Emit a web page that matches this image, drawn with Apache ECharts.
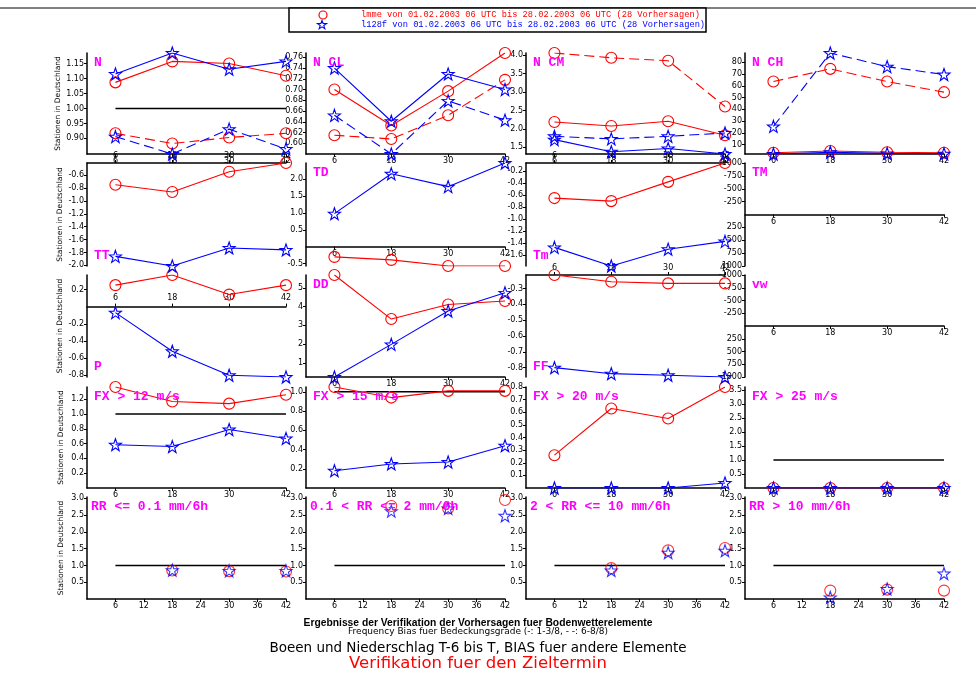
<!DOCTYPE html>
<html><head><meta charset="utf-8">
<script src="https://cdn.jsdelivr.net/npm/echarts@6/dist/echarts.min.js"></script>
<style>html,body{margin:0;padding:0;background:#fff}#c{width:976px;height:682px}</style>
</head><body><div id="c"></div>
<script>
// ---------- data ----------
const hours = [6, 18, 30, 42];
const rrHours = [18, 30, 42];
const xLabelsMain = [6, 18, 30, 42];
const xLabelsRR = [6, 12, 18, 24, 30, 36, 42];
const refValue = 1.0;

// cloud cover: "Low" = 1-3/8 (solid), "High" = 6-8/8 (dashed)
const nLmmeLow = [1.087, 1.157, 1.150, 1.109];
const nL128fLow = [1.115, 1.185, 1.131, 1.157];
const nLmmeHigh = [0.917, 0.883, 0.903, 0.917];
const nL128fHigh = [0.906, 0.848, 0.931, 0.865];

const clLmmeLow = [0.700, 0.633, 0.697, 0.768];
const clL128fLow = [0.740, 0.641, 0.729, 0.700];
const clLmmeHigh = [0.615, 0.608, 0.652, 0.718];
const clL128fHigh = [0.652, 0.580, 0.679, 0.643];

const cmLmmeLow = [2.19, 2.08, 2.21, 1.83];
const cmL128fLow = [1.71, 1.38, 1.47, 1.32];
const cmLmmeHigh = [4.06, 3.93, 3.85, 2.61];
const cmL128fHigh = [1.80, 1.73, 1.80, 1.89];

const chLmmeLow = [3.0, 4.5, 3.5, 3.0];
const chL128fLow = [2.0, 3.5, 2.5, 2.2];
const chLmmeHigh = [63.6, 74.4, 63.6, 54.6];
const chL128fHigh = [25.5, 87.9, 76.3, 69.6];

const ttLmme = [-0.747, -0.86, -0.545, -0.41];
const ttL128f = [-1.86, -2.01, -1.73, -1.76];
const tdLmme = [-0.30, -0.39, -0.57, -0.57];
const tdL128f = [0.98, 2.16, 1.78, 2.48];
const tminLmme = [-0.65, -0.70, -0.38, -0.066];
const tminL128f = [-1.47, -1.78, -1.50, -1.37];

const pLmme = [0.25, 0.368, 0.14, 0.25];
const pL128f = [-0.07, -0.52, -0.80, -0.82];
const ddLmme = [5.68, 3.33, 4.11, 4.29];
const ddL128f = [0.24, 1.98, 3.76, 4.73];
const ffLmme = [-0.215, -0.258, -0.268, -0.268];
const ffL128f = [-0.80, -0.838, -0.848, -0.859];

const fx12Lmme = [1.365, 1.17, 1.14, 1.26];
const fx12L128f = [0.585, 0.56, 0.79, 0.67];
const fx15Lmme = [1.05, 0.94, 1.01, 1.01];
const fx15L128f = [0.18, 0.25, 0.27, 0.44];
const fx20Lmme = [0.26, 0.63, 0.55, 0.80];
const fx20L128f = [0, 0, 0, 0.04];
const fx25Lmme = [0, 0, 0, 0];
const fx25L128f = [0, 0, 0, 0];

const rr01Lmme = [0.85, 0.83, 0.82];
const rr01L128f = [0.86, 0.84, 0.84];
const rr2Lmme = [2.77, 2.70, 2.95];
const rr2L128f = [2.62, 2.70, 2.48];
const rr10Lmme = [0.92, 1.45, 1.52];
const rr10L128f = [0.85, 1.38, 1.44];
const rrGt10Lmme = [0.25, 0.28, 0.25];
const rrGt10L128f = [0.05, 0.30, 0.76];

// y tick labels
const nTicks = [0.90, 0.95, 1.00, 1.05, 1.10, 1.15];
const clTicks = [0.60, 0.62, 0.64, 0.66, 0.68, 0.70, 0.72, 0.74, 0.76];
const cmTicks = [1.5, 2.0, 2.5, 3.0, 3.5, 4.0];
const chTicks = [10, 20, 30, 40, 50, 60, 70, 80];
const ttTicks = [-2.0, -1.8, -1.6, -1.4, -1.2, -1.0, -0.8, -0.6];
const tdTicks = [-0.5, 0.5, 1.0, 1.5, 2.0];
const tminTicks = [-1.6, -1.4, -1.2, -1.0, -0.8, -0.6, -0.4, -0.2];
const emptyTicks = [-1000, -750, -500, -250, 250, 500, 750, 1000];
const pTicks = [-0.8, -0.6, -0.4, -0.2, 0.2];
const ddTicks = [1, 2, 3, 4, 5];
const ffTicks = [-0.8, -0.7, -0.6, -0.5, -0.4, -0.3];
const fx12Ticks = [0.2, 0.4, 0.6, 0.8, 1.0, 1.2];
const fx15Ticks = [0.2, 0.4, 0.6, 0.8, 1.0];
const fx20Ticks = [0.1, 0.2, 0.3, 0.4, 0.5, 0.6, 0.7, 0.8];
const fx25Ticks = [0.5, 1.0, 1.5, 2.0, 2.5, 3.0, 3.5];
const rrTicks = [0.5, 1.0, 1.5, 2.0, 2.5, 3.0];

const legendLmme = 'lmme von 01.02.2003 06 UTC bis 28.02.2003 06 UTC (28 Vorhersagen)';
const legendL128f = 'l128f von 01.02.2003 06 UTC bis 28.02.2003 06 UTC (28 Vorhersagen)';

// ---------- panels ----------
const L = (d, m, dash) => ({ d, m, dash: !!dash });
const panels = [
  { t: 'N', tp: 'top', ticks: nTicks, dec: 2, xp: 'bottom', ref: true,
    lines: [L(nLmmeLow,'lmme'), L(nL128fLow,'l128f'), L(nLmmeHigh,'lmme',1), L(nL128fHigh,'l128f',1)] },
  { t: 'N CL', tp: 'top', ticks: clTicks, dec: 2, xp: 'bottom',
    lines: [L(clLmmeLow,'lmme'), L(clL128fLow,'l128f'), L(clLmmeHigh,'lmme',1), L(clL128fHigh,'l128f',1)] },
  { t: 'N CM', tp: 'top', ticks: cmTicks, dec: 1, xp: 'bottom',
    lines: [L(cmLmmeLow,'lmme'), L(cmL128fLow,'l128f'), L(cmLmmeHigh,'lmme',1), L(cmL128fHigh,'l128f',1)] },
  { t: 'N CH', tp: 'top', ticks: chTicks, dec: 0, xp: 'bottom',
    lines: [L(chLmmeLow,'lmme'), L(chL128fLow,'l128f'), L(chLmmeHigh,'lmme',1), L(chL128fHigh,'l128f',1)] },

  { t: 'TT', tp: 'bottom', ticks: ttTicks, dec: 1, xp: 'top', lines: [L(ttLmme,'lmme'), L(ttL128f,'l128f')] },
  { t: 'TD', tp: 'top', ticks: tdTicks, dec: 1, xp: 'zero', lines: [L(tdLmme,'lmme'), L(tdL128f,'l128f')] },
  { t: 'Tm', tp: 'bottom', ticks: tminTicks, dec: 1, xp: 'top', lines: [L(tminLmme,'lmme'), L(tminL128f,'l128f')] },
  { t: 'TM', tp: 'top', ticks: emptyTicks, dec: 0, xp: 'zero', empty: true, lines: [] },

  { t: 'P', tp: 'bottom', ticks: pTicks, dec: 1, xp: 'zero', inside: true, lines: [L(pLmme,'lmme'), L(pL128f,'l128f')] },
  { t: 'DD', tp: 'top', ticks: ddTicks, dec: 0, xp: 'bottom', lines: [L(ddLmme,'lmme'), L(ddL128f,'l128f')] },
  { t: 'FF', tp: 'bottom', ticks: ffTicks, dec: 1, xp: 'top', lines: [L(ffLmme,'lmme'), L(ffL128f,'l128f')] },
  { t: 'vw', tp: 'top', ticks: emptyTicks, dec: 0, xp: 'zero', empty: true, lines: [] },

  { t: 'FX > 12 m/s', tp: 'top', ticks: fx12Ticks, dec: 1, xp: 'bottom', ref: true, min: 0,
    lines: [L(fx12Lmme,'lmme'), L(fx12L128f,'l128f')] },
  { t: 'FX > 15 m/s', tp: 'top', ticks: fx15Ticks, dec: 1, xp: 'bottom', ref: true, min: 0,
    lines: [L(fx15Lmme,'lmme'), L(fx15L128f,'l128f')] },
  { t: 'FX > 20 m/s', tp: 'top', ticks: fx20Ticks, dec: 1, xp: 'bottom', min: 0,
    lines: [L(fx20Lmme,'lmme'), L(fx20L128f,'l128f')] },
  { t: 'FX > 25 m/s', tp: 'top', ticks: fx25Ticks, dec: 1, xp: 'bottom', ref: true, min: 0, max: 3.6,
    lines: [L(fx25Lmme,'lmme'), L(fx25L128f,'l128f')] },

  { t: 'RR <= 0.1 mm/6h', tp: 'top', ticks: rrTicks, dec: 1, xp: 'bottom', ref: true, min: 0, max: 3.04, rr: true,
    lines: [L(rr01Lmme,'lmme'), L(rr01L128f,'l128f')] },
  { t: '0.1 < RR <= 2 mm/6h', tp: 'top', ticks: rrTicks, dec: 1, xp: 'bottom', ref: true, min: 0, max: 3.04, rr: true,
    lines: [L(rr2Lmme,'lmme'), L(rr2L128f,'l128f')] },
  { t: '2 < RR <= 10 mm/6h', tp: 'top', ticks: rrTicks, dec: 1, xp: 'bottom', ref: true, min: 0, max: 3.04, rr: true,
    lines: [L(rr10Lmme,'lmme'), L(rr10L128f,'l128f')] },
  { t: 'RR > 10 mm/6h', tp: 'top', ticks: rrTicks, dec: 1, xp: 'bottom', ref: true, min: 0, max: 3.04, rr: true,
    lines: [L(rrGt10Lmme,'lmme'), L(rrGt10L128f,'l128f')] }
];

// ---------- layout & styles ----------
const colX = [87, 306, 526, 745];
const colW = 199;
const rowTop = [53, 163, 275, 387, 497];
const rowBot = [154, 266, 377, 488, 599];
const RED = '#ff0000', BLUE = '#0000ff', MAG = '#ff00ff';
const STAR = 'path://M0,-100 L23.5,-32.4 L95.1,-30.9 L38,12.4 L58.8,80.9 L0,40 L-58.8,80.9 L-38,12.4 L-95.1,-30.9 L-23.5,-32.4 Z';
const starUnit = [[0,-100],[23.5,-32.4],[95.1,-30.9],[38,12.4],[58.8,80.9],[0,40],[-58.8,80.9],[-38,12.4],[-95.1,-30.9],[-23.5,-32.4]];
const tickFont = { fontSize: 8, fontFamily: 'DejaVu Sans', color: '#000' };

const grids = [], xAxes = [], yAxes = [], series = [], graphics = [];

panels.forEach((p, i) => {
  const r = Math.floor(i / 4), c = i % 4;
  grids.push({ left: colX[c], top: rowTop[r], width: colW, height: rowBot[r] - rowTop[r] });
  const xl = p.rr ? xLabelsRR : xLabelsMain;
  xAxes.push({
    gridIndex: i, type: 'value', min: 0, max: 42,
    position: p.xp === 'top' ? 'top' : 'bottom',
    offset: 0,
    axisLine: { show: true, onZero: false, lineStyle: { color: '#000', width: 1.5 } },
    axisTick: { show: true, customValues: xl, length: 3, inside: !!p.inside, lineStyle: { color: '#000' } },
    axisLabel: { customValues: xl, margin: 3, inside: !!p.inside, ...tickFont, formatter: v => String(v) },
    splitLine: { show: false }
  });
  yAxes.push({
    gridIndex: i, type: 'value',
    min: p.empty ? -1000 : (p.min !== undefined ? p.min : 'dataMin'),
    max: p.empty ? 1000 : (p.max !== undefined ? p.max : 'dataMax'),
    inverse: !!p.empty,
    name: c === 0 ? 'Stationen in Deutschland' : '',
    nameLocation: 'middle', nameGap: 22,
    nameTextStyle: { fontSize: 7.5, fontFamily: 'DejaVu Sans', color: '#000' },
    axisLine: { show: true, onZero: false, lineStyle: { color: '#000', width: 1.5 } },
    axisTick: { show: true, customValues: p.ticks, length: 3, lineStyle: { color: '#000' } },
    axisLabel: { customValues: p.ticks, margin: 3, ...tickFont, formatter: v => (+v).toFixed(p.dec) },
    splitLine: { show: false }
  });
  p.lines.forEach(ln => {
    const isL = ln.m === 'lmme';
    const col = isL ? RED : BLUE;
    const xs = p.rr ? rrHours : hours;
    series.push({
      type: p.rr ? 'scatter' : 'line', name: ln.m, xAxisIndex: i, yAxisIndex: i,
      data: xs.map((h, k) => [h, ln.d[k]]),
      symbol: isL ? 'circle' : STAR, symbolSize: isL ? 11 : 12,
      showSymbol: true, silent: true, animation: false,
      itemStyle: { color: 'rgba(255,255,255,0)', borderColor: col, borderWidth: 1.1 },
      lineStyle: { color: col, width: 1.1, type: ln.dash ? [10, 5] : 'solid' },
      z: isL ? 3 : 4
    });
  });
  if (p.ref) {
    series.push({
      type: 'line', xAxisIndex: i, yAxisIndex: i, data: [[6, refValue], [42, refValue]],
      symbol: 'none', silent: true, animation: false, lineStyle: { color: '#000', width: 1.5 }, z: 2
    });
  }
  const ty = p.tp === 'top' ? rowTop[r] + 10 : rowBot[r] - 10;
  graphics.push({
    type: 'text', x: colX[c] + (p.rr ? 4 : 7), y: ty, silent: true, z: 100,
    style: { text: p.t, fill: MAG, font: 'bold 13px "Liberation Mono"', align: 'left', verticalAlign: 'middle' }
  });
});

// top line + legend box
graphics.push({ type: 'line', shape: { x1: 0, y1: 8, x2: 976, y2: 8 }, style: { stroke: '#000', lineWidth: 1 } });
graphics.push({ type: 'rect', shape: { x: 289, y: 8, width: 417, height: 24 }, style: { fill: '#fff', stroke: '#000', lineWidth: 1.5 } });
graphics.push({ type: 'circle', shape: { cx: 323, cy: 15, r: 4 }, style: { fill: 'none', stroke: RED, lineWidth: 1.2 } });
graphics.push({ type: 'polygon', shape: { points: starUnit.map(([a, b]) => [322 + a * 0.048, 25 + b * 0.045]) }, style: { fill: 'none', stroke: BLUE, lineWidth: 1.1 } });
graphics.push({ type: 'text', x: 361, y: 15, style: { text: legendLmme, fill: RED, font: '8.7px "Liberation Mono"', align: 'left', verticalAlign: 'middle' } });
graphics.push({ type: 'text', x: 361, y: 25, style: { text: legendL128f, fill: BLUE, font: '8.7px "Liberation Mono"', align: 'left', verticalAlign: 'middle' } });

// bottom texts
const cx = 478;
graphics.push({ type: 'text', x: cx, y: 623, style: { text: 'Ergebnisse der Verifikation der Vorhersagen fuer Bodenwetterelemente', fill: '#000', font: 'bold 10.3px "Liberation Sans"', align: 'center', verticalAlign: 'middle' } });
graphics.push({ type: 'text', x: cx, y: 632, style: { text: 'Frequency Bias fuer Bedeckungsgrade (-: 1-3/8, - -: 6-8/8)', fill: '#000', font: '9px "DejaVu Sans"', align: 'center', verticalAlign: 'middle' } });
graphics.push({ type: 'text', x: cx, y: 648, style: { text: 'Boeen und Niederschlag T-6 bis T, BIAS fuer andere Elemente', fill: '#000', font: '13.5px "DejaVu Sans"', align: 'center', verticalAlign: 'middle' } });
graphics.push({ type: 'text', x: cx, y: 664, style: { text: 'Verifikation fuer den Zieltermin', fill: '#ff0000', font: '16.5px "DejaVu Sans"', align: 'center', verticalAlign: 'middle' } });

const chart = echarts.init(document.getElementById('c'), null, { renderer: 'canvas' });
chart.setOption({
  animation: false,
  backgroundColor: '#fff',
  grid: grids, xAxis: xAxes, yAxis: yAxes, series: series,
  graphic: { elements: graphics }
});

// move the x axis of panels whose range spans zero onto the y = 0 line (via library scale)
panels.forEach((p, i) => {
  if (p.xp !== 'zero') return;
  const r = Math.floor(i / 4);
  const zeroPx = chart.convertToPixel({ yAxisIndex: i }, 0);
  xAxes[i].offset = zeroPx - rowBot[r];
  if (p.inside) { xAxes[i].axisLabel.margin = 5; }
});
chart.setOption({ xAxis: xAxes });
</script>
</body></html>
